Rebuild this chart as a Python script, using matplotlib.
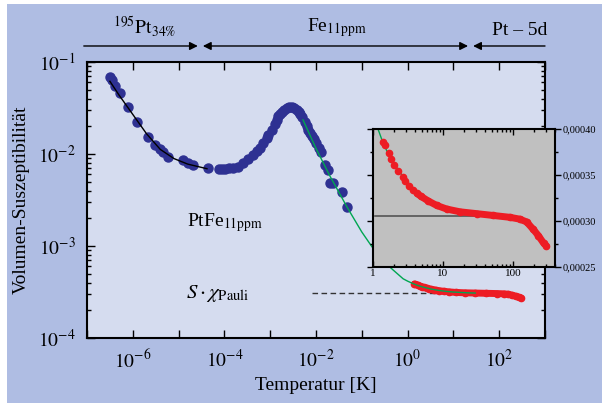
import numpy as np
import matplotlib.pyplot as plt
from matplotlib.patches import Rectangle
from matplotlib.ticker import FixedLocator, NullFormatter, FuncFormatter

plt.rcParams['font.family'] = ['Liberation Serif', 'DejaVu Serif']
plt.rcParams['mathtext.fontset'] = 'stix'

### Data
# blue measured points (log10 T, log10 chi)
blue_logT = [-6.50, -6.46, -6.39, -6.28, -6.10, -5.90, -5.66, -5.52, -5.41, -5.33,
             -5.23, -4.90, -4.79, -4.68, -4.35, -4.11, -4.05, -3.99, -3.90, -3.81,
             -3.70, -3.59, -3.48, -3.37, -3.29, -3.22, -3.15, -3.08, -3.04, -2.97,
             -2.90, -2.86, -2.82, -2.78, -2.75, -2.70, -2.64, -2.58, -2.53, -2.47,
             -2.42, -2.38, -2.35, -2.30, -2.24, -2.20, -2.17, -2.13, -2.09, -2.04,
             -1.99, -1.93, -1.88, -1.80, -1.73, -1.69, -1.62, -1.44, -1.33]
blue_logchi = [-1.16, -1.20, -1.26, -1.34, -1.49, -1.65, -1.82, -1.90, -1.95, -1.98,
               -2.03, -2.07, -2.10, -2.12, -2.15, -2.16, -2.16, -2.16, -2.15, -2.15,
               -2.14, -2.10, -2.05, -2.01, -1.97, -1.93, -1.88, -1.83, -1.79, -1.74,
               -1.67, -1.63, -1.59, -1.56, -1.54, -1.52, -1.50, -1.49, -1.49, -1.50,
               -1.52, -1.54, -1.57, -1.60, -1.65, -1.70, -1.74, -1.77, -1.80, -1.84,
               -1.88, -1.93, -1.98, -2.12, -2.17, -2.31, -2.32, -2.41, -2.58]

# black fit at lowest temperatures
fit_logT = [-6.50, -6.30, -6.00, -5.70, -5.40, -5.10, -4.80, -4.38]
fit_logchi = [-1.21, -1.36, -1.57, -1.78, -1.95, -2.05, -2.11, -2.16]

# green fit (T in K, chi)
green_T = [0.0052, 0.01, 0.02, 0.048, 0.1, 0.167, 0.3, 0.48, 0.8, 1.0, 1.33, 1.6,
           2.0, 2.6, 3.5, 5.0, 7.0, 10, 14, 20, 30]
green_chi = [0.0235, 0.0115, 0.0058, 0.00263, 0.00142, 0.00098, 0.00068, 0.00055,
             0.00044, 0.000415, 0.000389, 0.000375, 0.000362, 0.000350, 0.000338,
             0.000328, 0.000321, 0.000316, 0.000313, 0.000310, 0.000308]

# red points (T in K, chi)
red_T = [1.41, 1.48, 1.71, 1.82, 2.02, 2.30, 2.66, 2.88, 3.29, 3.74, 4.25, 4.80,
         6.1, 8.1, 11.3, 17.5, 30.3, 52.5, 90.6, 126, 157, 195, 232, 274, 300]
red_chi = [0.000386, 0.000383, 0.000374, 0.000367, 0.000361, 0.000354, 0.000348,
           0.000343, 0.000338, 0.000334, 0.000330, 0.000327, 0.000322, 0.000317,
           0.000313, 0.000310, 0.000308, 0.000306, 0.000304, 0.000302, 0.000299,
           0.000291, 0.000284, 0.000276, 0.000273]

chi_pauli = 0.000305

blue = '#2e3192'
red = '#ed1c24'
green = '#00a651'
bg = '#afbde3'
face = '#d5dcef'

fig = plt.figure(figsize=(6.02, 4.03), dpi=100, facecolor='white')
fig.patches.append(Rectangle((7 / 602, 0), 1, 1 - 4 / 403, transform=fig.transFigure,
                             facecolor=bg, edgecolor='none', zorder=-10))

ax = fig.add_axes([87 / 602, 65 / 403, 458 / 602, 276 / 403])
ax.set_facecolor(face)
ax.set_xscale('log')
ax.set_yscale('log')
ax.set_xlim(1e-7, 1e3)
ax.set_ylim(1e-4, 1e-1)

ax.plot(10 ** np.array(fit_logT), 10 ** np.array(fit_logchi), color='black', lw=1, zorder=3)
ax.plot(10 ** np.array(blue_logT), 10 ** np.array(blue_logchi), 'o', color=blue,
        ms=6.5, mec=blue, zorder=2)
ax.plot(red_T, red_chi, color=red, lw=5, solid_capstyle='round', zorder=2)
ax.plot(red_T, red_chi, 'o', color=red, ms=4.5, zorder=2)
ax.plot(green_T, green_chi, color=green, lw=1, zorder=3)
ax.plot([8e-3, 15.4], [chi_pauli, chi_pauli], color='#333333', lw=1, ls=(0, (4, 2.5)), zorder=1)

decades = [10.0 ** e for e in range(-7, 4)]
ax.xaxis.set_major_locator(FixedLocator(decades))
ax.set_xticklabels(['' if e % 2 else r'$10^{%d}$' % e for e in range(-7, 4)])
ax.xaxis.set_minor_formatter(NullFormatter())
ax.yaxis.set_major_locator(FixedLocator([1e-4, 1e-3, 1e-2, 1e-1]))
ax.set_yticklabels([r'$10^{-4}$', r'$10^{-3}$', r'$10^{-2}$', r'$10^{-1}$'])
ax.yaxis.set_minor_formatter(NullFormatter())
ax.tick_params(which='both', direction='in', top=True, right=True, width=1, labelsize=14)
ax.tick_params(which='major', length=6, pad=8)
ax.tick_params(which='minor', length=3)
for s in ax.spines.values():
    s.set_linewidth(1.5)

ax.set_xlabel('Temperatur [K]', fontsize=14, labelpad=4)
ax.set_ylabel('Volumen-Suszeptibilität', fontsize=14, labelpad=6)

ax.text(1.5e-5, 1.8e-3, r'PtFe$_{\mathrm{11ppm}}$', fontsize=14, ha='left', va='center')
ax.text(3.5e-4, chi_pauli, r'$S\cdot\chi_{\mathrm{Pauli}}$', fontsize=15, ha='right', va='center')

# top arrows
tr = ax.get_xaxis_transform()
arrow_y = 1.058
kw = dict(arrowstyle='-|>', color='black', lw=1, mutation_scale=12, shrinkA=0, shrinkB=0)
ax.annotate('', xy=(10 ** -4.58, arrow_y), xytext=(10 ** -7.07, arrow_y), xycoords=tr,
            textcoords=tr, arrowprops=kw, annotation_clip=False)
ax.annotate('', xy=(10 ** 1.32, arrow_y), xytext=(10 ** -4.47, arrow_y), xycoords=tr,
            textcoords=tr, arrowprops=dict(kw, arrowstyle='<|-|>'), annotation_clip=False)
ax.annotate('', xy=(10 ** 1.43, arrow_y), xytext=(10 ** 3.0, arrow_y), xycoords=tr,
            textcoords=tr, arrowprops=kw, annotation_clip=False)
ax.text(10 ** -5.75, 1.085, r'$^{195}\mathrm{Pt}_{34\%}$', transform=tr, fontsize=14,
        ha='center', va='bottom')
ax.text(10 ** -1.55, 1.085, r'Fe$_{\mathrm{11ppm}}$', transform=tr, fontsize=14,
        ha='center', va='bottom')
ax.text(10 ** 2.45, 1.085, 'Pt – 5d', transform=tr, fontsize=14, ha='center', va='bottom')

# inset
ins = fig.add_axes([373 / 602, 136 / 403, 182 / 602, 138 / 403])
ins.set_facecolor('#c0c0c0')
ins.set_xscale('log')
ins.set_xlim(1, 400)
ins.set_ylim(0.00025, 0.0004)
ins.plot(green_T, green_chi, color=green, lw=1, zorder=2)
ins.plot([1.07, 58], [chi_pauli, chi_pauli], color='#555555', lw=1.2, zorder=3)
ins.plot([t for t in red_T if t > 4], [c for t, c in zip(red_T, red_chi) if t > 4],
         color=red, lw=5, solid_capstyle='round', zorder=4)
ins.plot(red_T, red_chi, 'o', color=red, ms=4.5, zorder=4)
ins.xaxis.set_major_locator(FixedLocator([1, 10, 100]))
ins.set_xticklabels(['1', '10', '100'])
ins.xaxis.set_minor_formatter(NullFormatter())
ins.yaxis.set_major_locator(FixedLocator([0.00025, 0.0003, 0.00035, 0.0004]))
ins.yaxis.set_minor_locator(FixedLocator([0.000275, 0.000325, 0.000375]))
ins.yaxis.set_major_formatter(FuncFormatter(lambda v, p: ('%.5f' % v).replace('.', ',')))
ins.yaxis.tick_right()
ins.tick_params(which='both', direction='in', top=True, left=True, right=True,
                labelsize=8, width=1)
ins.tick_params(axis='y', which='both', direction='out', right=True, labelsize=7.5)
ins.tick_params(which='major', length=4, pad=1.5)
ins.tick_params(which='minor', length=2)
for s in ins.spines.values():
    s.set_linewidth(1.5)

fig.savefig('out.png', dpi=100, facecolor=fig.get_facecolor())
